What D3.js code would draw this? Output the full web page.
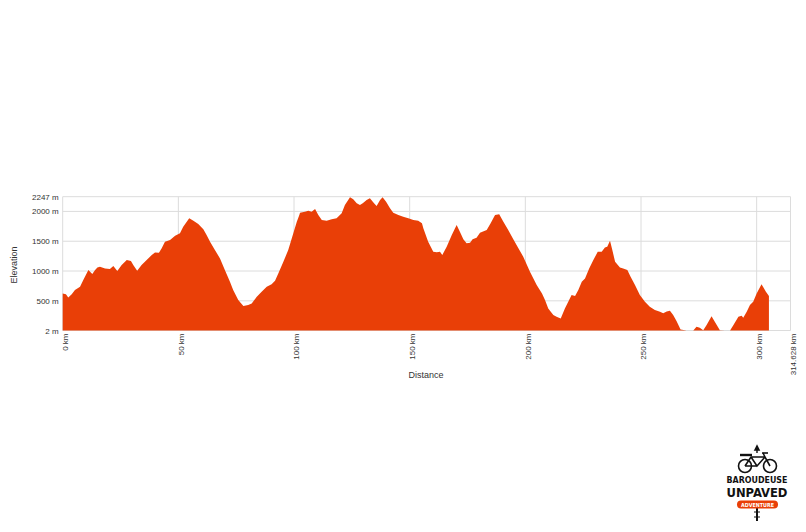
<!DOCTYPE html>
<html>
<head>
<meta charset="utf-8">
<script src="https://cdn.jsdelivr.net/npm/d3@7"></script>
<style>
  html, body { margin: 0; padding: 0; background: #fff; }
  svg { display: block; font-family: "Liberation Sans", Arial, sans-serif; }
</style>
</head>
<body>
<svg id="chart" width="806" height="532"></svg>
<script>
// ---- data ----
const distanceKm = [
  0.0, 1.4, 2.4, 3.9, 5.3, 7.5, 8.9, 11.1, 12.8, 14.0, 15.0, 16.1, 18.3, 20.4, 21.9, 23.6, 25.5, 27.7, 29.5, 30.5,
  32.2, 34.1, 36.3, 38.5, 39.9, 41.6, 42.8, 44.2, 46.4, 48.6, 50.7,
  52.1, 54.7, 56.5, 58.6, 60.8, 62.2, 63.7, 65.8, 68.0, 70.1, 72.3, 73.7, 75.9, 78.1, 80.2, 81.7, 83.9, 86.0, 88.2,
  90.3, 91.8, 93.2, 95.4, 97.5, 99.7, 101.2, 102.3,
  102.6, 104.7, 106.2, 107.6, 109.1, 110.5, 112.0, 114.1, 116.3, 118.4, 120.6, 122.0, 124.2, 125.6, 127.1, 128.5,
  129.7, 131.4, 132.8, 134.6, 135.7, 137.2, 138.3, 139.8, 141.5, 142.9, 145.1, 147.2, 149.4, 151.6, 153.7, 155.3,
  155.9, 158.0, 160.2, 161.7, 163.1, 164.1, 166.0, 168.2, 170.3, 171.7, 173.2, 174.6, 176.1, 177.2, 178.9, 180.4,
  183.3, 185.0, 186.9, 188.7, 190.5, 192.6, 194.8, 197.0, 199.1, 202.0, 204.9, 207.2,
  208.5, 209.9, 212.1, 213.5, 215.3, 217.1, 220.0, 221.5, 222.9, 224.4, 225.8, 227.6, 229.4, 231.3, 233.0, 234.4,
  235.4, 236.6, 237.6, 238.8, 240.9, 242.3, 244.1, 245.5, 247.4, 249.5, 251.7, 253.8, 256.0, 258.2,
  259.6, 261.1, 262.5, 263.9, 265.4, 267.1, 269.7, 272.6, 274.0, 275.4, 276.9, 278.3, 280.5, 281.9, 284.1, 286.3,
  288.5, 289.9, 292.1, 293.5, 294.2, 295.7, 297.1, 298.5, 300.0, 302.1, 304.0, 305.3
];
const elevationM = [
  624, 612, 556, 612, 680, 735, 848, 1016, 948, 1016, 1060, 1072, 1044, 1033, 1083, 999, 1100, 1184, 1168, 1100,
  1004, 1100, 1184, 1268, 1312, 1306, 1380, 1492, 1520, 1592, 1632,
  1744, 1884, 1845, 1788, 1699, 1604, 1492, 1352, 1212, 1016, 820, 680, 512, 411, 428, 456, 568, 652, 736,
  780, 836, 960, 1156, 1352, 1632, 1828, 1940,
  1979, 1996, 2010, 1996, 2040, 1940, 1856, 1845, 1867, 1884, 1968, 2108, 2236, 2203, 2136, 2108,
  2136, 2192, 2220, 2136, 2091, 2192, 2236, 2164, 2052, 1979, 1940, 1912, 1884, 1856, 1845, 1800,
  1716, 1492, 1324, 1313, 1324, 1268, 1408, 1604, 1772, 1660, 1531, 1464, 1475, 1531, 1559, 1643,
  1688, 1800, 1940, 1951, 1828, 1688, 1531, 1380, 1240, 988, 764, 624,
  512, 372, 260, 232, 204, 372, 596, 580, 680, 820, 876, 1044, 1184, 1324, 1324, 1396,
  1408, 1508, 1352, 1156, 1060, 1044, 1016, 904, 764, 596, 484, 400, 344, 316,
  290, 320, 332, 262, 159, 19, 2, 2, 64, 47, 8, 92, 243, 148, 8, 2,
  2, 92, 232, 250, 215, 316, 428, 484, 624, 780, 652, 579
];
const xTicks = [0, 50, 100, 150, 200, 250, 300, 314.628];
const xTickLabels = ["0 km", "50 km", "100 km", "150 km", "200 km", "250 km", "300 km", "314.628 km"];
const yTicks = [2, 500, 1000, 1500, 2000, 2247];
const yTickLabels = ["2 m", "500 m", "1000 m", "1500 m", "2000 m", "2247 m"];
const xTitle = "Distance";
const yTitle = "Elevation";

// ---- chart ----
const svg = d3.select("#chart");
const fillColor = "#e93f07";
const gridColor = "#dcdcdc";

const x = d3.scaleLinear().domain([0, 314.628]).range([62.7, 790.5]);
const y = d3.scaleLinear().domain([2, 2247]).range([330.5, 196.7]);

const points = distanceKm.map((d, i) => ({ d, e: elevationM[i] }));

// grid
const grid = svg.append("g");
grid.selectAll("line.h").data(yTicks).join("line")
  .attr("x1", x.range()[0]).attr("x2", x.range()[1])
  .attr("y1", d => y(d)).attr("y2", d => y(d))
  .attr("stroke", gridColor).attr("stroke-width", 1);
grid.selectAll("line.v").data(xTicks).join("line")
  .attr("x1", d => x(d)).attr("x2", d => x(d))
  .attr("y1", y.range()[1]).attr("y2", y.range()[0])
  .attr("stroke", gridColor).attr("stroke-width", 1);

// area
const area = d3.area()
  .x(p => x(p.d))
  .y0(y(2))
  .y1(p => y(p.e))
  .curve(d3.curveLinear);
svg.append("path").datum(points)
  .attr("d", area)
  .attr("fill", fillColor);

// y axis labels
const yAxis = d3.axisLeft(y).tickValues(yTicks)
  .tickFormat((d, i) => yTickLabels[i]).tickSize(0).tickPadding(4);
const gy = svg.append("g").attr("transform", `translate(${x.range()[0]},0)`).call(yAxis);
gy.select(".domain").remove();
gy.selectAll("text").attr("font-size", 8).attr("fill", "#333")
  .attr("font-family", "'Liberation Sans', Arial, sans-serif");

// x axis labels
const xAxis = d3.axisBottom(x).tickValues(xTicks)
  .tickFormat((d, i) => xTickLabels[i]).tickSize(0);
const gx = svg.append("g").attr("transform", `translate(0,${y.range()[0]})`).call(xAxis);
gx.select(".domain").remove();
gx.selectAll("text")
  .attr("font-size", 8).attr("fill", "#333")
  .attr("font-family", "'Liberation Sans', Arial, sans-serif")
  .attr("text-anchor", "end")
  .attr("transform", "rotate(-90)")
  .attr("x", -3).attr("y", 0).attr("dy", "0.6em");

// titles
svg.append("text").text(xTitle)
  .attr("x", 426).attr("y", 378)
  .attr("text-anchor", "middle").attr("font-size", 9).attr("fill", "#333");
svg.append("text").text(yTitle)
  .attr("transform", "translate(17,265) rotate(-90)")
  .attr("text-anchor", "middle").attr("font-size", 9).attr("fill", "#333");

// ---- logo ----
const logo = svg.append("g").attr("stroke", "#111").attr("fill", "none").attr("stroke-width", 1.6);
logo.append("circle").attr("cx", 745).attr("cy", 466).attr("r", 6.5);
logo.append("circle").attr("cx", 770).attr("cy", 466).attr("r", 6.5);
logo.append("path").attr("d", "M745,466 L751,457 L765,457 L770,466 M751,457 L757,466 L765,457 M757,466 L745,466 M765,457 L763,453");
logo.append("path").attr("d", "M740,455 L752,455").attr("stroke-width", 2.4);
logo.append("path").attr("d", "M757,446 L757,453").attr("stroke-width", 1.4);
logo.append("path").attr("d", "M755,450 L757,446 L759,450 Z").attr("fill", "#111");
logo.append("path").attr("d", "M762,453 L768,453").attr("stroke-width", 1.6);
logo.append("path").attr("d", "M757,508 L757,521").attr("stroke-width", 2);
logo.append("path").attr("d", "M754,512 L760,512 M754,517 L760,517").attr("stroke-width", 1.2);
svg.append("text").text("BAROUDEUSE")
  .attr("x", 757).attr("y", 483).attr("text-anchor", "middle")
  .attr("font-family", "'DejaVu Sans Condensed', 'Liberation Sans Narrow', sans-serif")
  .attr("font-weight", "bold").attr("font-size", 9.5).attr("fill", "#111")
  .attr("textLength", 61).attr("lengthAdjust", "spacingAndGlyphs");
svg.append("text").text("UNPAVED")
  .attr("x", 757).attr("y", 497).attr("text-anchor", "middle")
  .attr("font-family", "'DejaVu Sans Condensed', 'Liberation Sans Narrow', sans-serif")
  .attr("font-weight", "bold").attr("font-size", 12).attr("fill", "#111")
  .attr("textLength", 61).attr("lengthAdjust", "spacingAndGlyphs");
svg.append("rect").attr("x", 737).attr("y", 500.5).attr("width", 41).attr("height", 8)
  .attr("rx", 4).attr("fill", fillColor);
svg.append("text").text("ADVENTURE")
  .attr("x", 757.5).attr("y", 506.6).attr("text-anchor", "middle")
  .attr("font-family", "'DejaVu Sans Condensed', 'Liberation Sans Narrow', sans-serif")
  .attr("font-weight", "bold").attr("font-size", 5.5).attr("fill", "#fff")
  .attr("textLength", 33).attr("lengthAdjust", "spacingAndGlyphs");
</script>
</body>
</html>
